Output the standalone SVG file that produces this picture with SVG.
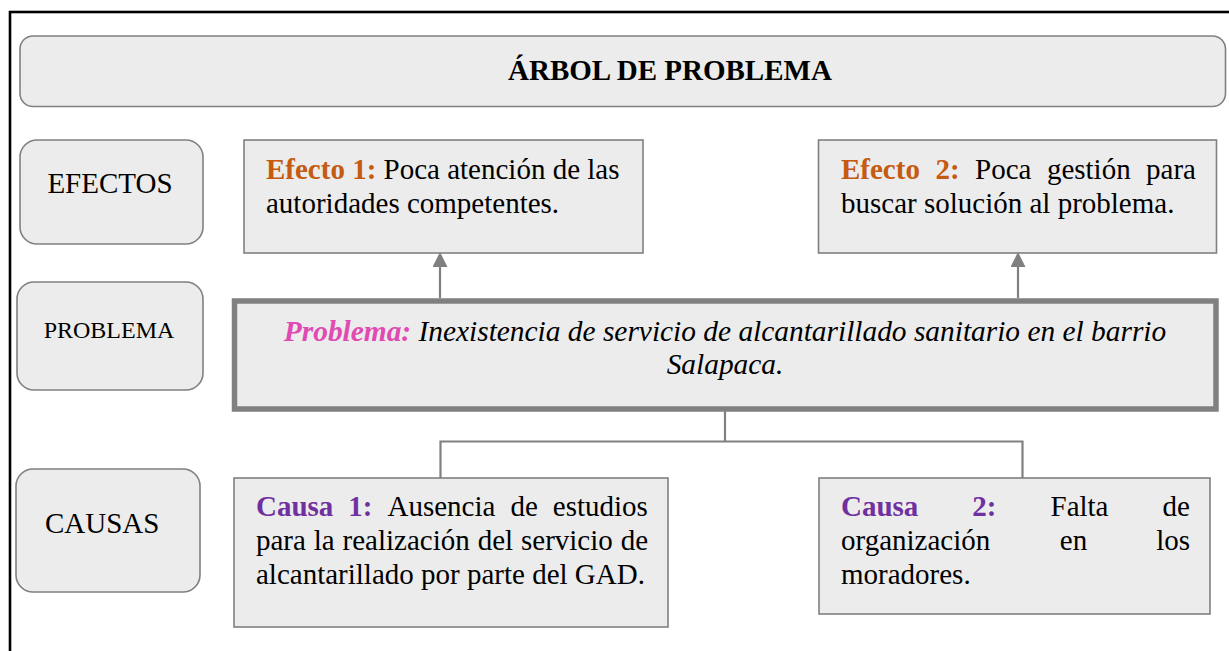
<svg xmlns="http://www.w3.org/2000/svg" width="1229" height="651" viewBox="0 0 1229 651">
<style>
.box{fill:#ececec;stroke:#808080;stroke-width:1.6}
.t{font-family:"Liberation Serif","Times New Roman",serif;font-size:29px;fill:#000}
.b{font-weight:bold}
.or{fill:#c55a11;font-weight:bold}
.pu{fill:#7030a0;font-weight:bold}
.pk{fill:#e04ab2;font-weight:bold}
.con{stroke:#808080;stroke-width:2.2;fill:none}
</style>
<defs>
<marker id="arr" markerWidth="15" markerHeight="15" refX="0" refY="7.5" orient="auto" markerUnits="userSpaceOnUse" viewBox="0 0 15 15">
<path d="M0,0 L15,7.5 L0,15 Z" fill="#808080"/>
</marker>
</defs>
<rect x="10" y="12" width="1240" height="660" fill="#fff" stroke="#000" stroke-width="2.6"/>

<g id="title">
<rect class="box" x="20" y="36" width="1205.5" height="70.5" rx="13"/>
<text class="t b" x="508" y="80">ÁRBOL DE PROBLEMA</text>
</g>

<g id="lbl-efectos">
<rect class="box" x="20" y="140" width="183" height="104" rx="17"/>
<text class="t" x="110" y="193" text-anchor="middle">EFECTOS</text>
</g>

<g id="lbl-problema">
<rect class="box" x="17" y="282" width="186" height="108" rx="17"/>
<text class="t" x="109" y="338" text-anchor="middle" style="font-size:24px">PROBLEMA</text>
</g>

<g id="lbl-causas">
<rect class="box" x="16" y="469" width="184" height="123" rx="17"/>
<text class="t" x="45" y="533">CAUSAS</text>
</g>

<g id="connectors">
<line class="con" x1="440" y1="298" x2="440" y2="267" marker-end="url(#arr)"/>
<line class="con" x1="1018" y1="298" x2="1018" y2="267" marker-end="url(#arr)"/>
<polyline class="con" points="725,411 725,441.5"/>
<polyline class="con" points="440.5,480 440.5,441.5 1022.5,441.5 1022.5,481"/>
</g>

<g id="efecto1">
<rect class="box" x="244" y="140" width="399" height="113"/>
<text class="t" x="266" y="178.5"><tspan class="or">Efecto 1:</tspan> Poca atención de las</text>
<text class="t" x="266" y="213">autoridades competentes.</text>
</g>

<g id="efecto2">
<rect class="box" x="818.5" y="140" width="398" height="113"/>
<text class="t" y="178.5"><tspan class="or" x="841">Efecto</tspan><tspan class="or" x="935.4">2:</tspan><tspan x="975">Poca</tspan><tspan x="1046.9">gestión</tspan><tspan x="1146.1">para</tspan></text>
<text class="t" x="841" y="213">buscar solución al problema.</text>
</g>

<g id="problema">
<rect x="234.5" y="301" width="981.5" height="108" fill="#ececec" stroke="#808080" stroke-width="5.5"/>
<text class="t" x="725" y="340.5" text-anchor="middle" font-style="italic" style="font-size:29.4px"><tspan class="pk">Problema:</tspan> Inexistencia de servicio de alcantarillado sanitario en el barrio</text>
<text class="t" x="725" y="373.5" text-anchor="middle" font-style="italic" style="font-size:29.4px">Salapaca.</text>
</g>

<g id="causa1">
<rect class="box" x="234" y="478" width="434" height="149"/>
<text class="t" y="516"><tspan class="pu" x="256">Causa</tspan><tspan class="pu" x="348.3">1:</tspan><tspan x="387.5">Ausencia</tspan><tspan x="510.4">de</tspan><tspan x="552.8">estudios</tspan></text>
<text class="t" y="550"><tspan x="256">para</tspan><tspan x="313.8">la</tspan><tspan x="342.6">realización</tspan><tspan x="477.7">del</tspan><tspan x="521">servicio</tspan><tspan x="620.7">de</tspan></text>
<text class="t" x="256" y="584">alcantarillado por parte del GAD.</text>
</g>

<g id="causa2">
<rect class="box" x="819" y="478" width="391" height="136"/>
<text class="t" y="516"><tspan class="pu" x="841">Causa</tspan><tspan class="pu" x="972.3">2:</tspan><tspan x="1050.5">Falta</tspan><tspan x="1162.5">de</tspan></text>
<text class="t" y="550"><tspan x="841">organización</tspan><tspan x="1059.8">en</tspan><tspan x="1156.2">los</tspan></text>
<text class="t" x="841" y="584">moradores.</text>
</g>
</svg>
